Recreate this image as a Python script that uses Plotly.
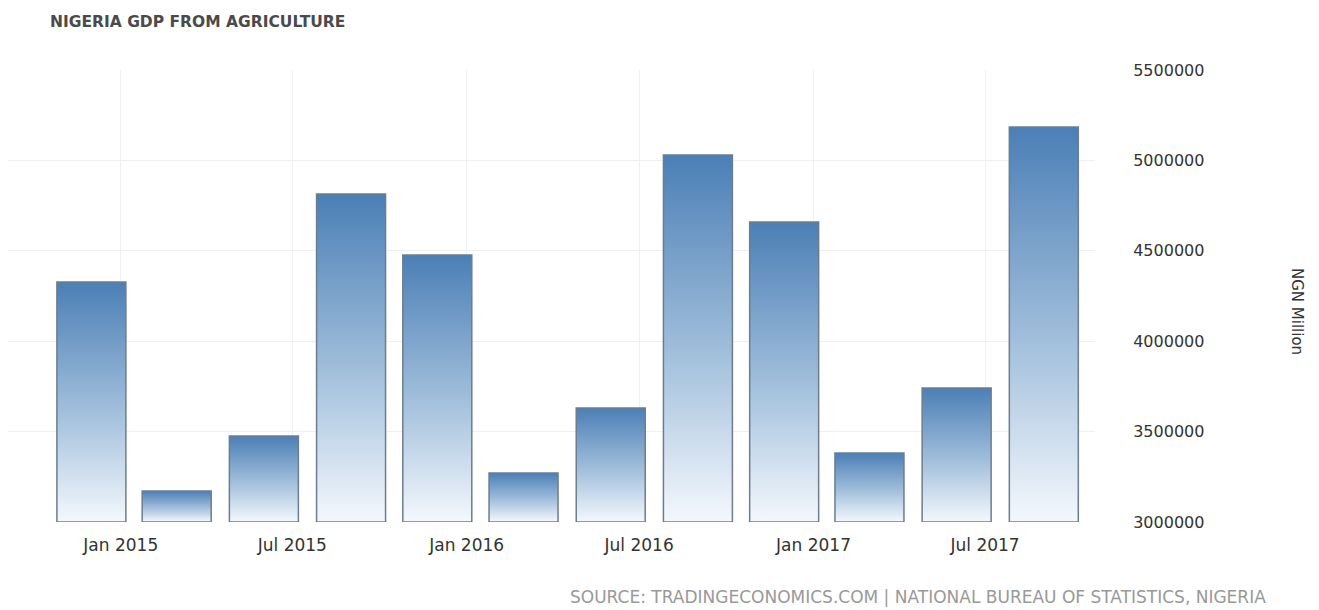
import plotly.graph_objects as go
import pandas as pd

# Data (quarterly, NGN Million)
periods = ["2014-12-01", "2015-03-01", "2015-06-01", "2015-09-01",
           "2015-12-01", "2016-03-01", "2016-06-01", "2016-09-01",
           "2016-12-01", "2017-03-01", "2017-06-01", "2017-09-01"]
values = [4327000, 3171000, 3476000, 4814000,
          4477000, 3271000, 3631000, 5030000,
          4659000, 3382000, 3741000, 5185000]
tick_dates = ["2015-01-01", "2015-07-01", "2016-01-01",
              "2016-07-01", "2017-01-01", "2017-07-01"]
tick_labels = ["Jan 2015", "Jul 2015", "Jan 2016",
               "Jul 2016", "Jan 2017", "Jul 2017"]
y_ticks = [3000000, 3500000, 4000000, 4500000, 5000000, 5500000]

BASE = 3000000
HALF = pd.Timedelta(days=36.4)
FONT = "DejaVu Sans"

fig = go.Figure()
for d, v in zip(periods, values):
    c = pd.Timestamp(d)
    xs = [c - HALF, c - HALF, c + HALF, c + HALF, c - HALF]
    ys = [BASE, v, v, BASE, BASE]
    fig.add_trace(go.Scatter(
        x=xs, y=ys, mode="lines", fill="toself",
        fillgradient=dict(type="vertical",
                          colorscale=[[0, "#f4f8fd"], [0.45, "#a3c0dc"], [1, "#4b7fb6"]]),
        line=dict(color="#6d7d8d", width=1.5),
        hoverinfo="skip", showlegend=False))

fig.update_layout(
    width=1319, height=610,
    margin=dict(l=8, r=224, t=70, b=88),
    paper_bgcolor="white", plot_bgcolor="white",
    font=dict(family=FONT, color="#333333"),
    title=dict(text="<b>NIGERIA GDP FROM AGRICULTURE</b>", xref="container", yref="container",
               x=50 / 1319, xanchor="left", y=1 - 22 / 610, yanchor="middle",
               font=dict(family=FONT, size=15.5, color="#4a4a4a")),
    xaxis=dict(type="date", range=["2014-09-04", "2017-10-25"],
               tickvals=tick_dates, ticktext=tick_labels,
               showgrid=True, gridcolor="#f0f0f0", gridwidth=1,
               ticks="outside", ticklen=8, tickcolor="rgba(0,0,0,0)",
               tickfont=dict(size=17, color="#333333"),
               showline=False, zeroline=False),
    yaxis=dict(side="right", range=[3000000, 5500000],
               tickvals=y_ticks, tickformat="d",
               showgrid=True, gridcolor="#f0f0f0", gridwidth=1,
               ticks="outside", ticklen=34, tickcolor="rgba(0,0,0,0)",
               tickfont=dict(size=16, color="#333333"),
               showline=False, zeroline=False),
    annotations=[
        dict(text="NGN Million", xref="paper", yref="paper",
             x=(1297 - 8) / 1087, y=(522 - 311) / 452, textangle=90,
             showarrow=False, xanchor="center", yanchor="middle",
             font=dict(family=FONT, size=15, color="#333333")),
        dict(text="SOURCE: TRADINGECONOMICS.COM | NATIONAL BUREAU OF STATISTICS, NIGERIA",
             xref="paper", yref="paper",
             x=(1268 - 8) / 1087, y=(522 - 597) / 452,
             showarrow=False, xanchor="right", yanchor="middle",
             font=dict(family=FONT, size=17, color="#999999")),
    ],
)

fig.write_html("out.html")
